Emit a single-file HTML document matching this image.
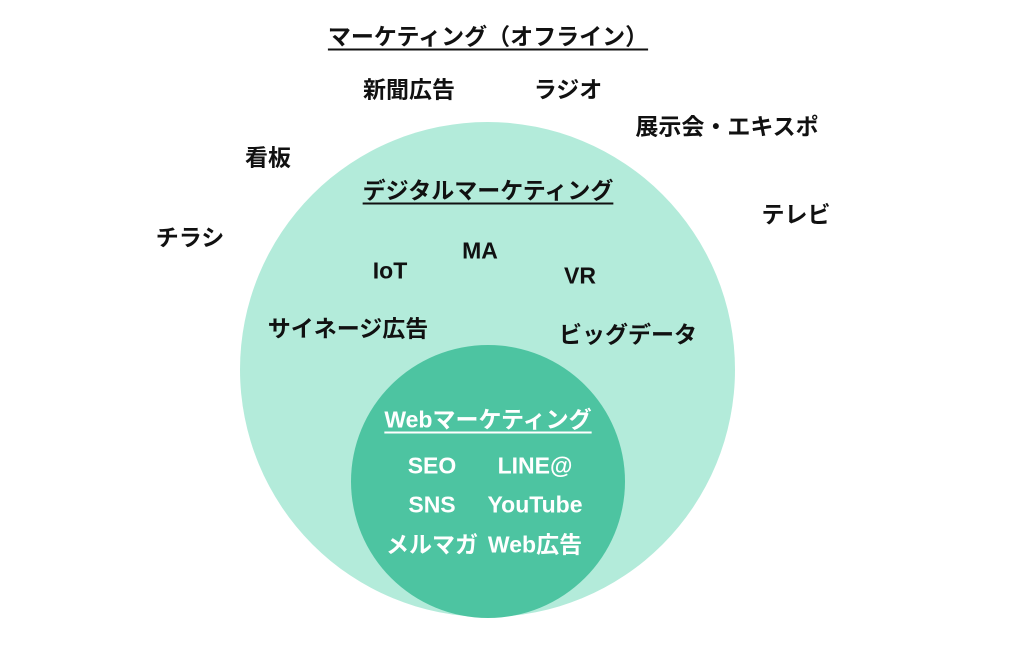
<!DOCTYPE html>
<html><head><meta charset="utf-8"><style>
html,body{margin:0;padding:0;background:#fff;width:1025px;height:668px;overflow:hidden;position:relative;font-family:"Liberation Sans","Noto Sans CJK JP",sans-serif;font-weight:bold;}
.t{position:absolute;transform:translate(-50%,-50%);white-space:nowrap;font-size:23px;color:#111;line-height:1;}
.u{text-decoration:underline;text-underline-offset:4px;text-decoration-thickness:1.5px;}
.w{color:#fff;}
.c{position:absolute;border-radius:50%;}
</style></head><body>
<div class="c" style="left:240px;top:122px;width:495px;height:495px;background:#b3ebda;"></div>
<div class="c" style="left:351px;top:345px;width:274px;height:273px;background:#4dc4a1;"></div>
<div class="t u" style="left:488px;top:37px;">マーケティング（オフライン）</div>
<div class="t" style="left:409px;top:90px;">新聞広告</div>
<div class="t" style="left:568px;top:90px;">ラジオ</div>
<div class="t" style="left:727px;top:127px;">展示会・エキスポ</div>
<div class="t" style="left:268px;top:158px;">看板</div>
<div class="t" style="left:796px;top:215px;">テレビ</div>
<div class="t" style="left:190px;top:238px;">チラシ</div>
<div class="t u" style="left:488px;top:191px;">デジタルマーケティング</div>
<div class="t" style="left:390px;top:271px;">IoT</div>
<div class="t" style="left:480px;top:251px;">MA</div>
<div class="t" style="left:580px;top:276px;">VR</div>
<div class="t" style="left:348px;top:329px;">サイネージ広告</div>
<div class="t" style="left:628px;top:335px;">ビッグデータ</div>
<div class="t u w" style="left:488px;top:420px;">Webマーケティング</div>
<div class="t w" style="left:432px;top:466px;">SEO</div>
<div class="t w" style="left:535px;top:466px;">LINE@</div>
<div class="t w" style="left:432px;top:505px;">SNS</div>
<div class="t w" style="left:535px;top:505px;">YouTube</div>
<div class="t w" style="left:432px;top:545px;">メルマガ</div>
<div class="t w" style="left:535px;top:545px;">Web広告</div>
</body></html>
